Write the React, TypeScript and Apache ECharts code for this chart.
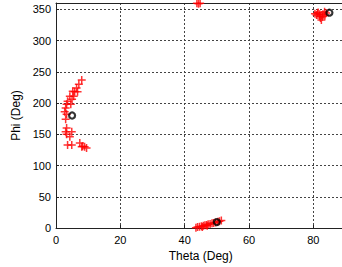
import React, { useEffect, useRef } from "react";
import * as echarts from "echarts";

const xTicks = [0, 20, 40, 60, 80];
const yTicks = [0, 50, 100, 150, 200, 250, 300, 350];

// red '+' samples [theta, phi]
const cluster1: number[][] = [
  [8.0, 236.8], [7.1, 230], [6.4, 224], [6.7, 218], [5.8, 218], [5.2, 219],
  [5.5, 211], [5.0, 206], [4.3, 211], [3.6, 203], [4.6, 198], [3.3, 198],
  [3.0, 192], [2.7, 186], [3.3, 182], [3.0, 174], [3.3, 160], [3.0, 154],
  [3.3, 150], [4.9, 154], [4.3, 146], [3.6, 133], [4.9, 133], [7.4, 136],
  [8.0, 130], [8.3, 131], [8.9, 130], [9.5, 128],
];
const cluster2: number[][] = [
  [43.5, 0.5], [44.0, 1.5], [44.6, 2], [45.2, 3], [45.8, 3.5], [46.3, 4.5],
  [46.8, 5], [47.3, 6], [47.9, 6.5], [48.5, 7.5], [49.0, 8], [49.6, 9],
  [50.3, 10], [50.8, 11], [51.4, 12.2], [45.5, 1.5], [47.0, 3.5],
];
const cluster3: number[][] = [
  [80.5, 343], [81.0, 341], [81.5, 345], [82.0, 339], [82.2, 336], [82.5, 333],
  [82.8, 338], [83.0, 342], [83.5, 346], [84.0, 344], [83.6, 340], [82.0, 342],
  [81.3, 344],
];
const cluster4: number[][] = [[43.8, 359.5], [44.3, 359], [44.8, 359.8]];
const centers: number[][] = [[5.0, 180], [50.0, 9.5], [85.0, 344.5]];

const font = "'Liberation Sans', Arial, Helvetica, sans-serif";

export default function App() {
  const ref = useRef<HTMLDivElement>(null);
  useEffect(() => {
    if (!ref.current) return;
    const chart = echarts.init(ref.current, null, { renderer: "svg" });
    const plus = [...cluster1, ...cluster2, ...cluster3, ...cluster4];
    const grid = { color: "#444", type: [2, 2], width: 1 };
    chart.setOption({
      animation: false,
      backgroundColor: "#fff",
      grid: { left: 56, top: 3, width: 289.5, height: 225, outerBoundsMode: "none", containLabel: false },
      xAxis: [
        {
          type: "value",
          min: 0,
          max: 90,
          interval: 20,
          name: "Theta (Deg)",
          nameLocation: "middle",
          nameGap: 13,
          nameTextStyle: { fontFamily: font, fontSize: 12, color: "#000" },
          axisLine: { show: true, lineStyle: { color: "#222", width: 1 } },
          axisTick: { show: true, inside: true, length: 3, lineStyle: { color: "#222" } },
          axisLabel: {
            fontFamily: font,
            fontSize: 11,
            color: "#000",
            margin: 6,
            formatter: (v: number) => (xTicks.includes(v) ? String(v) : ""),
          },
          splitLine: { show: true, lineStyle: grid },
        },
        {
          type: "value",
          position: "top",
          min: 0,
          max: 90,
          interval: 20,
          axisLine: { show: true, onZero: false, lineStyle: { color: "#222", width: 1 } },
          axisTick: { show: false },
          axisLabel: { show: false },
          splitLine: { show: false },
        },
      ],
      yAxis: {
        type: "value",
        min: 0,
        max: 360,
        interval: 50,
        name: "Phi (Deg)",
        nameLocation: "middle",
        nameGap: 23,
        nameTextStyle: { fontFamily: font, fontSize: 12, color: "#000" },
        axisLine: { show: true, lineStyle: { color: "#222", width: 1 } },
        axisTick: { show: true, inside: true, length: 3, lineStyle: { color: "#222" } },
        axisLabel: {
          fontFamily: font,
          fontSize: 11,
          color: "#000",
          margin: 5,
          formatter: (v: number) => (yTicks.includes(v) ? String(v) : ""),
        },
        splitLine: { show: true, lineStyle: grid },
      },
      series: [
        {
          type: "scatter",
          data: plus,
          symbol: "path://M-1,0L1,0M0,-1L0,1",
          symbolSize: 8,
          itemStyle: { color: "rgba(0,0,0,0)", borderColor: "#ff0000", borderWidth: 1.5 },
          silent: true,
        },
        {
          type: "scatter",
          data: centers,
          symbol: "circle",
          symbolSize: 6,
          itemStyle: { color: "rgba(0,0,0,0)", borderColor: "#000", borderWidth: 2.2 },
          silent: true,
        },
      ],
    });
    return () => chart.dispose();
  }, []);
  return (
    <div
      ref={ref}
      style={{ position: "fixed", left: 0, top: 0, width: 342, height: 267 }}
    />
  );
}
